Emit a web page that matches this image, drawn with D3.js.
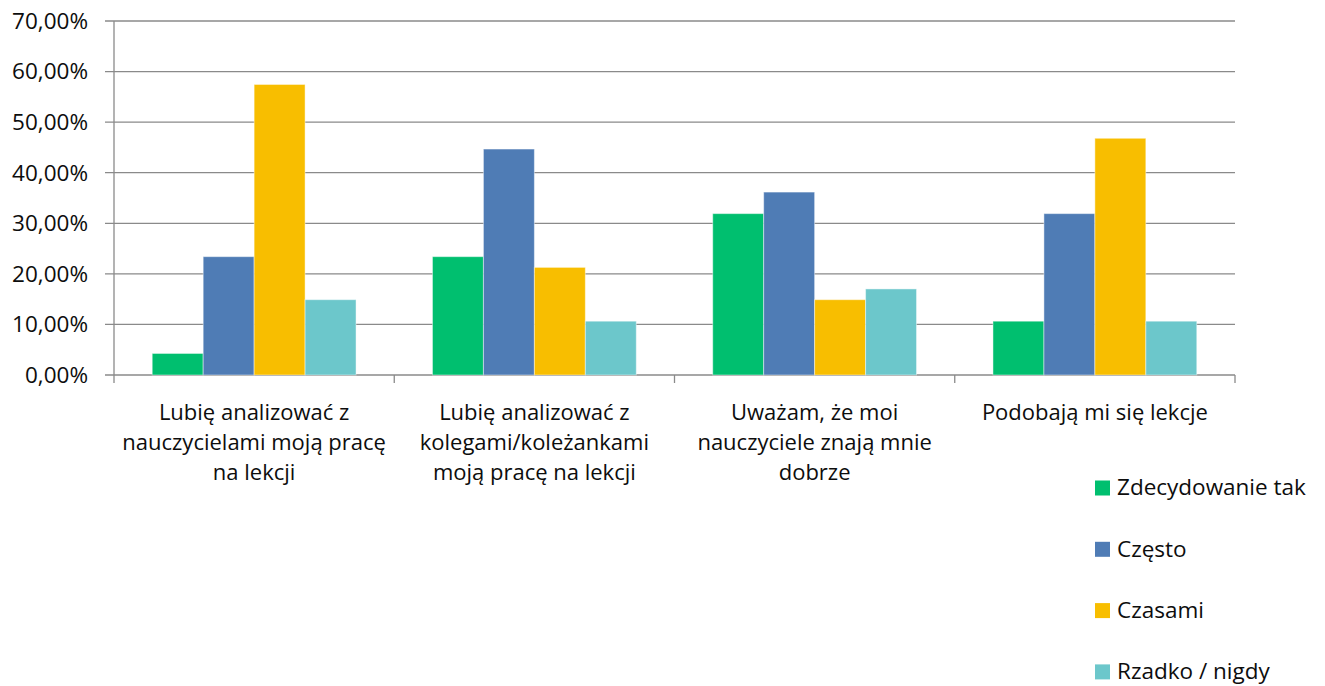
<!DOCTYPE html>
<html lang="pl">
<head>
  <meta charset="UTF-8">
  <script src="https://d3js.org/d3.v7.min.js"></script>
  <title>Wykres</title>
  <style>
    body { margin: 0; background: #fff; }
    text { font-family: "Open Sans", sans-serif; fill: #0d0d0d; }
  </style>
</head>
<body>
  <script type="text/javascript">

    // data
    var categories = [
      ["Lubię analizować z", "nauczycielami moją pracę", "na lekcji"],
      ["Lubię analizować z", "kolegami/koleżankami", "moją pracę na lekcji"],
      ["Uważam, że moi", "nauczyciele znają mnie", "dobrze"],
      ["Podobają mi się lekcje"]
    ];
    var seriesNames = ["Zdecydowanie tak", "Często", "Czasami", "Rzadko / nigdy"];
    var seriesColors = ["#00BF6F", "#4F7CB5", "#F8BE00", "#6CC7CB"];
    var zdecydowanie = [4.26, 23.40, 31.91, 10.64];
    var czesto = [23.40, 44.68, 36.17, 31.91];
    var czasami = [57.45, 21.28, 14.89, 46.81];
    var rzadko = [14.89, 10.64, 17.02, 10.64];
    var yTicks = [0, 10, 20, 30, 40, 50, 60, 70];

    var series = [zdecydowanie, czesto, czasami, rzadko];

    const w = 1325;
    const h = 686;
    const plotLeft = 114, plotRight = 1235, plotTop = 21, plotBottom = 375;

    var svg = d3.select("body").append("svg")
      .attr("width", w)
      .attr("height", h);

    var x = d3.scaleBand()
      .domain(d3.range(categories.length))
      .range([plotLeft, plotRight])
      .padding(0);

    var xs = d3.scaleBand()
      .domain(d3.range(series.length))
      .range([0, x.bandwidth()])
      .paddingInner(0)
      .paddingOuter(0.75);

    var y = d3.scaleLinear()
      .domain([0, 70])
      .range([plotBottom, plotTop]);

    // gridlines
    svg.append("g").selectAll("line")
      .data(yTicks)
      .enter()
      .append("line")
      .attr("x1", plotLeft - 9)
      .attr("x2", plotRight)
      .attr("y1", function (d) { return y(d); })
      .attr("y2", function (d) { return y(d); })
      .attr("stroke", "#8a8a8a")
      .attr("stroke-width", 1.3);

    // y labels
    svg.append("g").selectAll("text")
      .data(yTicks)
      .enter()
      .append("text")
      .attr("x", 88)
      .attr("y", function (d) { return y(d); })
      .attr("dy", "0.35em")
      .attr("text-anchor", "end")
      .attr("font-size", "22.5px")
      .text(function (d) { return d.toFixed(2).replace(".", ",") + "%"; });

    // bars
    var groups = svg.append("g").selectAll("g")
      .data(series)
      .enter()
      .append("g")
      .attr("fill", function (d, i) { return seriesColors[i]; });

    groups.each(function (vals, si) {
      d3.select(this).selectAll("rect")
        .data(vals)
        .enter()
        .append("rect")
        .attr("x", function (d, ci) { return x(ci) + xs(si); })
        .attr("y", function (d) { return y(d); })
        .attr("width", xs.bandwidth())
        .attr("height", function (d) { return y(0) - y(d); })
        .attr("stroke", "#ffffff")
        .attr("stroke-opacity", 0.45)
        .attr("stroke-width", 1);
    });

    // axis lines
    svg.append("line")
      .attr("x1", plotLeft).attr("x2", plotLeft)
      .attr("y1", plotTop).attr("y2", plotBottom)
      .attr("stroke", "#8a8a8a").attr("stroke-width", 1.3);

    var bounds = d3.range(categories.length + 1).map(function (i) {
      return i < categories.length ? x(i) : plotRight;
    });
    svg.append("g").selectAll("line")
      .data(bounds)
      .enter()
      .append("line")
      .attr("x1", function (d) { return d; })
      .attr("x2", function (d) { return d; })
      .attr("y1", plotBottom)
      .attr("y2", plotBottom + 8)
      .attr("stroke", "#8a8a8a")
      .attr("stroke-width", 1.3);

    // category labels
    svg.append("g").selectAll("text")
      .data(categories)
      .enter()
      .append("text")
      .attr("text-anchor", "middle")
      .attr("font-size", "22px")
      .each(function (lines, i) {
        var t = d3.select(this);
        lines.forEach(function (line, k) {
          t.append("tspan")
            .attr("x", x(i) + x.bandwidth() / 2)
            .attr("y", 420 + k * 30)
            .text(line);
        });
      });

    // legend
    var legend = svg.append("g").selectAll("g")
      .data(seriesNames)
      .enter()
      .append("g")
      .attr("transform", function (d, i) { return "translate(1095," + (488 + i * 61.3) + ")"; });

    legend.append("rect")
      .attr("x", 0)
      .attr("y", -7.5)
      .attr("width", 15)
      .attr("height", 15)
      .attr("fill", function (d, i) { return seriesColors[i]; });

    legend.append("text")
      .attr("x", 22)
      .attr("y", 0)
      .attr("dy", "0.33em")
      .attr("font-size", "22.5px")
      .text(function (d) { return d; });

  </script>
</body>
</html>
